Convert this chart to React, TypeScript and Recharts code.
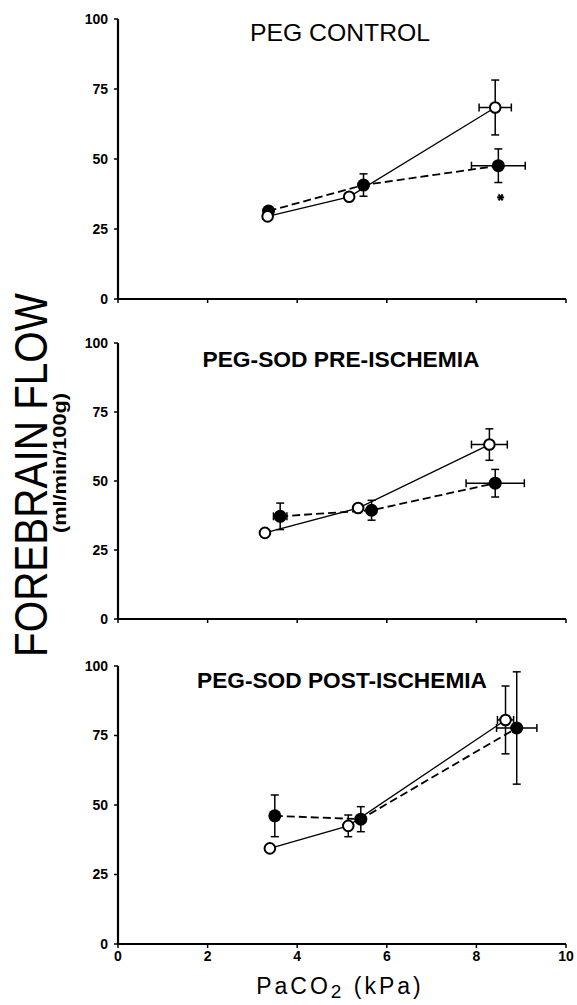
import React from 'react';
import { ScatterChart, Scatter, XAxis, YAxis, ErrorBar } from 'recharts';

/**
 * Forebrain flow vs PaCO2, three stacked panels
 */

// x = PaCO2 (kPa), y = flow (ml/min/100g), ex/ey = error bar half-widths
const controlOpen = [
  { x: 3.34, y: 29.5, ex: 0, ey: 0 },
  { x: 5.16, y: 36.5, ex: 0, ey: 0 },
  { x: 8.42, y: 68.4, ex: 0.36, ey: 9.8 },
];
const controlFilled = [
  { x: 3.36, y: 31.4, ex: 0, ey: 0 },
  { x: 5.48, y: 40.7, ex: 0, ey: 4 },
  { x: 8.49, y: 47.6, ex: 0.6, ey: 6 },
];
const controlStar = [{ x: 8.54, y: 36.3 }];

const preOpen = [
  { x: 3.28, y: 31.2, ex: 0, ey: 0 },
  { x: 5.36, y: 40.2, ex: 0, ey: 0 },
  { x: 8.29, y: 63.2, ex: 0.4, ey: 5.7 },
];
const preFilled = [
  { x: 3.62, y: 37.2, ex: 0.15, ey: 4.8 },
  { x: 5.66, y: 39.4, ex: 0, ey: 3.6 },
  { x: 8.42, y: 49.2, ex: 0.65, ey: 5 },
];

const postOpen = [
  { x: 3.39, y: 34.4, ex: 0, ey: 0 },
  { x: 5.14, y: 42.5, ex: 0, ey: 3.9 },
  { x: 8.65, y: 80.6, ex: 0.18, ey: 12.2 },
];
const postFilled = [
  { x: 3.5, y: 46.1, ex: 0, ey: 7.5 },
  { x: 5.42, y: 44.9, ex: 0, ey: 4.5 },
  { x: 8.9, y: 77.7, ex: 0.45, ey: 20.2 },
];

const xTicks = [0, 2, 4, 6, 8, 10];
const yTicks = [0, 25, 50, 75, 100];

const FONT = "'Liberation Sans', Arial, Helvetica, sans-serif";
const tickStyle = { fill: '#000', fontSize: 14, fontWeight: 700, fontFamily: FONT };

const openDot = (props: any) => (
  <circle cx={props.cx} cy={props.cy} r={5.3} fill='#fff' stroke='#000' strokeWidth={2} />
);
const filledDot = (props: any) => <circle cx={props.cx} cy={props.cy} r={6.5} fill='#000' />;
const starDot = (props: any) => {
  const { cx, cy } = props;
  return (
    <g stroke='#000' strokeWidth={2}>
      <line x1={cx - 3.5} y1={cy} x2={cx + 3.5} y2={cy} />
      <line x1={cx - 2} y1={cy - 3} x2={cx + 2} y2={cy + 3} />
      <line x1={cx - 2} y1={cy + 3} x2={cx + 2} y2={cy - 3} />
    </g>
  );
};

type PanelProps = {
  open: typeof controlOpen;
  filled: typeof controlFilled;
  star?: typeof controlStar;
  top: number;
  height: number;
  marginTop: number;
  axisHeight: number;
  showXLabels: boolean;
};

function Panel({ open, filled, star, top, height, marginTop, axisHeight, showXLabels }: PanelProps) {
  return (
    <div style={{ position: 'absolute', left: 0, top }}>
      <ScatterChart width={577} height={height} margin={{ top: marginTop, right: 11, bottom: 0, left: 0 }}>
        <XAxis
          type='number'
          dataKey='x'
          domain={[0, 10]}
          ticks={xTicks}
          height={axisHeight}
          axisLine={{ stroke: '#000', strokeWidth: 2.2 }}
          tickLine={{ stroke: '#000', strokeWidth: 1.5 }}
          tickSize={4}
          tickMargin={3}
          tick={tickStyle}
          tickFormatter={(v) => (showXLabels ? String(v) : '')}
        />
        <YAxis
          type='number'
          dataKey='y'
          domain={[0, 100]}
          ticks={yTicks}
          width={118}
          axisLine={{ stroke: '#000', strokeWidth: 2.2 }}
          tickLine={{ stroke: '#000', strokeWidth: 1.5 }}
          tickSize={4}
          tickMargin={6}
          tick={tickStyle}
        />
        <Scatter
          data={filled}
          shape={filledDot}
          line={{ stroke: '#000', strokeWidth: 1.8, strokeDasharray: '8 4' }}
          lineType='joint'
          isAnimationActive={false}>
          <ErrorBar dataKey='ey' direction='y' width={4} stroke='#000' strokeWidth={1.5} isAnimationActive={false} />
          <ErrorBar dataKey='ex' direction='x' width={4} stroke='#000' strokeWidth={1.5} isAnimationActive={false} />
        </Scatter>
        <Scatter
          data={open}
          shape={openDot}
          line={{ stroke: '#000', strokeWidth: 1.3 }}
          lineType='joint'
          isAnimationActive={false}>
          <ErrorBar dataKey='ey' direction='y' width={4} stroke='#000' strokeWidth={1.5} isAnimationActive={false} />
          <ErrorBar dataKey='ex' direction='x' width={4} stroke='#000' strokeWidth={1.5} isAnimationActive={false} />
        </Scatter>
        {star && <Scatter data={star} shape={starDot} isAnimationActive={false} />}
      </ScatterChart>
    </div>
  );
}

export default function App() {
  return (
    <div style={{ position: 'absolute', left: 0, top: 0, width: 577, height: 1005, background: '#fff' }}>
      <Panel open={controlOpen} filled={controlFilled} star={controlStar} top={0} height={320} marginTop={19} axisHeight={21} showXLabels={false} />
      <Panel open={preOpen} filled={preFilled} top={320} height={320} marginTop={23} axisHeight={21} showXLabels={false} />
      <Panel open={postOpen} filled={postFilled} top={640} height={365} marginTop={26} axisHeight={61} showXLabels />
      <svg width={577} height={1005} style={{ position: 'absolute', left: 0, top: 0, pointerEvents: 'none' }} fontFamily={FONT}>
        <text x={340} y={41} textAnchor='middle' fontSize={24} textLength={180} lengthAdjust='spacingAndGlyphs'>
          PEG CONTROL
        </text>
        <text x={341} y={367} textAnchor='middle' fontSize={22} fontWeight={700} textLength={277} lengthAdjust='spacingAndGlyphs'>
          PEG-SOD PRE-ISCHEMIA
        </text>
        <text x={342} y={688} textAnchor='middle' fontSize={22} fontWeight={700} textLength={290} lengthAdjust='spacingAndGlyphs'>
          PEG-SOD POST-ISCHEMIA
        </text>
        <text x={47} y={475} transform='rotate(-90, 47, 475)' textAnchor='middle' fontSize={46} textLength={364} lengthAdjust='spacingAndGlyphs'>
          FOREBRAIN FLOW
        </text>
        <text x={66} y={463} transform='rotate(-90, 66, 463)' textAnchor='middle' fontSize={18} fontWeight={700} textLength={140} lengthAdjust='spacingAndGlyphs'>
          (ml/min/100g)
        </text>
        <text x={340} y={994} textAnchor='middle' fontSize={23} letterSpacing={3}>
          PaCO<tspan fontSize={19} dy={4}>2</tspan>
          <tspan dy={-4}> (kPa)</tspan>
        </text>
      </svg>
    </div>
  );
}
